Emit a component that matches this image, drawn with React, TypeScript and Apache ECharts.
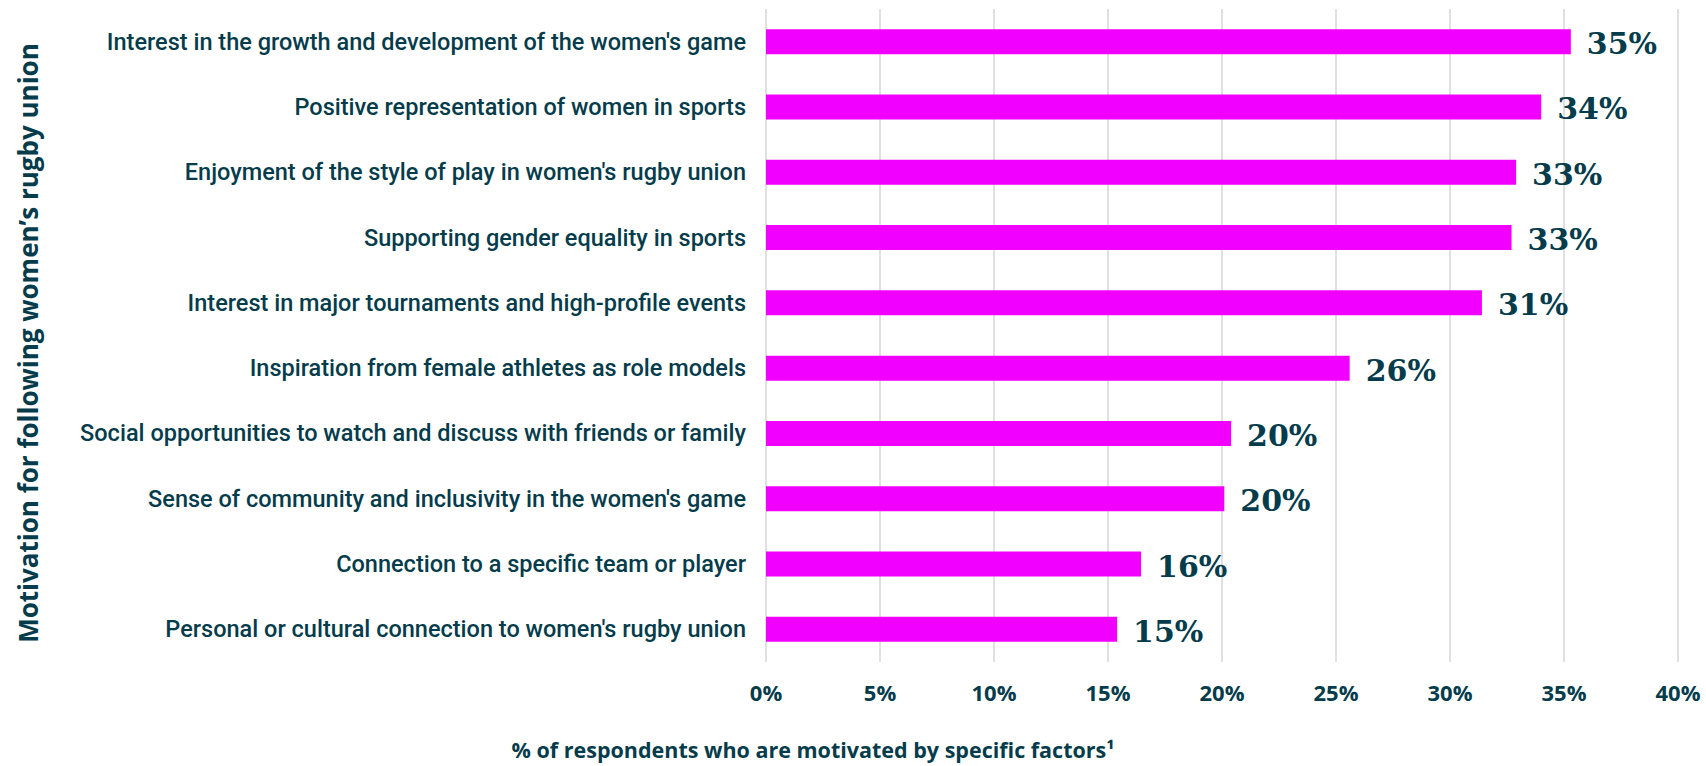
import React, { useEffect, useRef } from "react";
import * as echarts from "echarts";

const categories = [
  "Interest in the growth and development of the women's game",
  "Positive representation of women in sports",
  "Enjoyment of the style of play in women's rugby union",
  "Supporting gender equality in sports",
  "Interest in major tournaments and high-profile events",
  "Inspiration from female athletes as role models",
  "Social opportunities to watch and discuss with friends or family",
  "Sense of community and inclusivity in the women's game",
  "Connection to a specific team or player",
  "Personal or cultural connection to women's rugby union",
];

const values = [35.3, 34.0, 32.9, 32.7, 31.4, 25.6, 20.4, 20.1, 16.45, 15.4];

const xTicks = [0, 5, 10, 15, 20, 25, 30, 35, 40];

const xTitle = "% of respondents who are motivated by specific factors¹";
const yTitle = "Motivation for following women’s rugby union";

const TEXT = "#053c4b";
const BAR = "#f200ff";
const GRID = "#e0e0e0";

export default function App() {
  const ref = useRef<HTMLDivElement>(null);

  useEffect(() => {
    if (!ref.current) return;
    const chart = echarts.init(ref.current, undefined, { renderer: "svg" });
    chart.setOption({
      animation: false,
      backgroundColor: "#ffffff",
      grid: { left: 766, right: 28, top: 9, bottom: 104, containLabel: false },
      xAxis: {
        type: "value",
        min: xTicks[0],
        max: xTicks[xTicks.length - 1],
        interval: 5,
        axisLine: { show: false },
        axisTick: { show: false },
        splitLine: { show: true, lineStyle: { color: GRID, width: 2 } },
        axisLabel: {
          formatter: (v: number) => `${v}%`,
          color: TEXT,
          fontFamily: "Open Sans",
          fontWeight: 700,
          fontSize: 22,
          lineHeight: 22,
          margin: 19,
        },
      },
      yAxis: {
        type: "category",
        data: categories,
        inverse: true,
        axisLine: { show: false },
        axisTick: { show: false },
        splitLine: { show: false },
        axisLabel: {
          color: TEXT,
          fontFamily: "Roboto",
          fontWeight: 500,
          fontSize: 23.5,
          margin: 20,
        },
      },
      series: [
        {
          type: "bar",
          data: values,
          barWidth: 25,
          itemStyle: { color: BAR },
          label: {
            show: true,
            position: "right",
            distance: 16,
            offset: [0, 2],
            formatter: (p: any) => `${Math.round(p.value)}%`,
            color: TEXT,
            fontFamily: "DejaVu Serif",
            fontWeight: 700,
            fontSize: 30,
          },
        },
      ],
      graphic: [
        {
          type: "text",
          x: 813,
          y: 749,
          style: {
            text: xTitle,
            fill: TEXT,
            font: "700 21.5px 'Open Sans'",
            textAlign: "center",
            textVerticalAlign: "middle",
          },
        },
        {
          type: "text",
          x: 28,
          y: 343,
          rotation: Math.PI / 2,
          style: {
            text: yTitle,
            fill: TEXT,
            font: "700 26px 'Open Sans'",
            textAlign: "center",
            textVerticalAlign: "middle",
          },
        },
      ],
    });
    return () => chart.dispose();
  }, []);

  return (
    <div
      ref={ref}
      style={{ position: "fixed", left: 0, top: 0, width: 1706, height: 766 }}
    />
  );
}
